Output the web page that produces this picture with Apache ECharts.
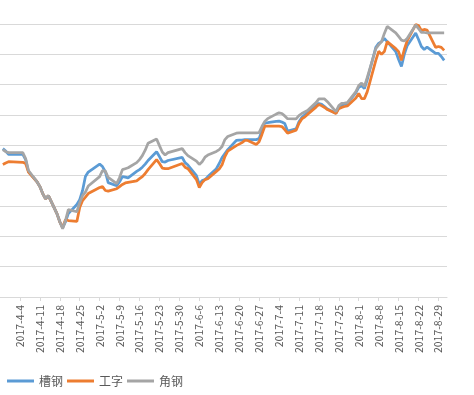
<!DOCTYPE html>
<html>
<head>
<meta charset="utf-8">
<script src="https://cdn.jsdelivr.net/npm/echarts@6/dist/echarts.min.js"></script>
<style>html,body{margin:0;padding:0;background:#fff}#c{width:474px;height:395px}</style>
</head>
<body>
<div id="c"></div>
<script>
var seriesNames = ['槽钢', '工字', '角钢'];
var dates = ['2017-3-29','2017-3-30','2017-3-31','2017-4-5','2017-4-6','2017-4-7','2017-4-10','2017-4-11','2017-4-12','2017-4-13','2017-4-14','2017-4-17','2017-4-18','2017-4-19','2017-4-20','2017-4-21','2017-4-24','2017-4-25','2017-4-26','2017-4-27','2017-4-28','2017-5-2','2017-5-3','2017-5-4','2017-5-5','2017-5-8','2017-5-9','2017-5-10','2017-5-11','2017-5-12','2017-5-15','2017-5-16','2017-5-17','2017-5-18','2017-5-19','2017-5-22','2017-5-23','2017-5-24','2017-5-25','2017-5-26','2017-5-31','2017-6-1','2017-6-2','2017-6-5','2017-6-6','2017-6-7','2017-6-8','2017-6-9','2017-6-12','2017-6-13','2017-6-14','2017-6-15','2017-6-16','2017-6-19','2017-6-20','2017-6-21','2017-6-22','2017-6-23','2017-6-26','2017-6-27','2017-6-28','2017-6-29','2017-6-30','2017-7-3','2017-7-4','2017-7-5','2017-7-6','2017-7-7','2017-7-10','2017-7-11','2017-7-12','2017-7-13','2017-7-14','2017-7-17','2017-7-18','2017-7-19','2017-7-20','2017-7-21','2017-7-24','2017-7-25','2017-7-26','2017-7-27','2017-7-28','2017-7-31','2017-8-1','2017-8-2','2017-8-3','2017-8-4','2017-8-7','2017-8-8','2017-8-9','2017-8-10','2017-8-11','2017-8-14','2017-8-15','2017-8-16','2017-8-17','2017-8-18','2017-8-21','2017-8-22','2017-8-23','2017-8-24','2017-8-25','2017-8-28','2017-8-29','2017-8-30','2017-8-31'];

var caogang = [3789,3781,3770,3770,3753,3713,3680,3664,3641,3624,3634,3575,3548,3529,3548,3575,3605,3621,3651,3697,3712,3738,3730,3713,3677,3667,3680,3697,3695,3693,3714,3720,3728,3738,3750,3779,3763,3746,3745,3750,3760,3743,3735,3700,3671,3684,3687,3697,3723,3740,3760,3773,3786,3816,3817,3817,3819,3819,3819,3822,3849,3874,3875,3879,3880,3877,3872,3847,3854,3878,3892,3900,3908,3931,3938,3935,3928,3920,3906,3925,3931,3936,3938,3974,3991,3996,3987,4017,4123,4136,4142,4152,4142,4109,4083,4060,4100,4128,4170,4149,4126,4116,4124,4103,4103,4093,4080];

var gongzi = [3737,3742,3746,3744,3740,3712,3680,3664,3641,3624,3634,3575,3548,3529,3555,3552,3549,3595,3618,3629,3641,3661,3664,3651,3649,3657,3664,3671,3676,3678,3683,3690,3697,3707,3720,3753,3740,3725,3723,3723,3740,3728,3723,3687,3661,3677,3687,3690,3714,3722,3736,3763,3781,3799,3804,3809,3816,3816,3803,3812,3836,3863,3863,3863,3863,3862,3852,3840,3850,3872,3887,3893,3902,3926,3935,3930,3925,3918,3905,3921,3925,3928,3930,3956,3971,3954,3954,3977,4080,4110,4100,4109,4142,4119,4109,4080,4116,4144,4198,4195,4179,4182,4180,4123,4126,4123,4113];

var jiaogang = [3786,3779,3776,3776,3756,3717,3680,3664,3641,3624,3634,3575,3548,3525,3552,3588,3581,3611,3634,3646,3666,3697,3717,3715,3694,3674,3694,3720,3723,3726,3743,3753,3766,3784,3807,3821,3799,3778,3768,3776,3789,3776,3766,3748,3737,3746,3761,3768,3780,3786,3796,3819,3829,3840,3841,3841,3841,3841,3841,3842,3862,3879,3888,3903,3907,3905,3897,3888,3887,3898,3905,3910,3915,3941,3953,3953,3953,3944,3911,3931,3938,3939,3941,3977,3997,4005,3994,4024,4119,4131,4142,4169,4192,4171,4159,4147,4144,4152,4197,4185,4172,4172,4171,4171,4171,4171,4171];

var yMin = 3300, yMax = 4200, yStep = 100;
var baseDate = new Date(2017, 3, 4);
function dayOffset(s) {
  var p = s.split('-');
  var d = new Date(+p[0], +p[1] - 1, +p[2]);
  return Math.round((d - baseDate) / 86400000);
}
function fmtDay(v) {
  var d = new Date(2017, 3, 4 + v);
  return d.getFullYear() + '-' + (d.getMonth() + 1) + '-' + d.getDate();
}
function pairs(vals) {
  return dates.map(function (s, i) { return [dayOffset(s), vals[i]]; });
}

var font = '"Noto Sans CJK SC", "Microsoft YaHei", sans-serif';
var colors = ['#5B9BD5', '#ED7D31', '#A5A5A5'];
var chart = echarts.init(document.getElementById('c'), null, {renderer: 'canvas'});
chart.setOption({
  animation: false,
  color: colors,
  textStyle: {fontFamily: font},
  grid: {left: 0, right: 27, top: 24, bottom: 98, containLabel: false},
  legend: {
    left: 2, top: 370,
    icon: 'rect', itemWidth: 27, itemHeight: 3, itemGap: 4,
    textStyle: {fontSize: 12, color: '#595959', fontFamily: font},
    data: seriesNames
  },
  xAxis: {
    type: 'value', min: -7, max: 150, interval: 7,
    axisLine: {show: true, lineStyle: {color: '#D9D9D9', width: 1}},
    axisTick: {show: true, length: 4, lineStyle: {color: '#D9D9D9'}},
    splitLine: {show: false},
    axisLabel: {
      rotate: 90, margin: 8, fontSize: 10.5, color: '#595959', fontFamily: font,
      showMinLabel: false, showMaxLabel: false,
      formatter: function (v) { return fmtDay(v); }
    }
  },
  yAxis: {
    type: 'value', min: yMin, max: yMax, interval: yStep,
    axisLine: {show: false}, axisTick: {show: false},
    axisLabel: {show: false},
    splitLine: {lineStyle: {color: '#D9D9D9', width: 1}}
  },
  series: [
    {name: seriesNames[0], type: 'line', data: pairs(caogang), showSymbol: false, lineStyle: {width: 2.75, color: colors[0]}, clip: false},
    {name: seriesNames[1], type: 'line', data: pairs(gongzi), showSymbol: false, lineStyle: {width: 2.75, color: colors[1]}, clip: false},
    {name: seriesNames[2], type: 'line', data: pairs(jiaogang), showSymbol: false, lineStyle: {width: 2.75, color: colors[2]}, clip: false}
  ]
});
</script>
</body>
</html>
